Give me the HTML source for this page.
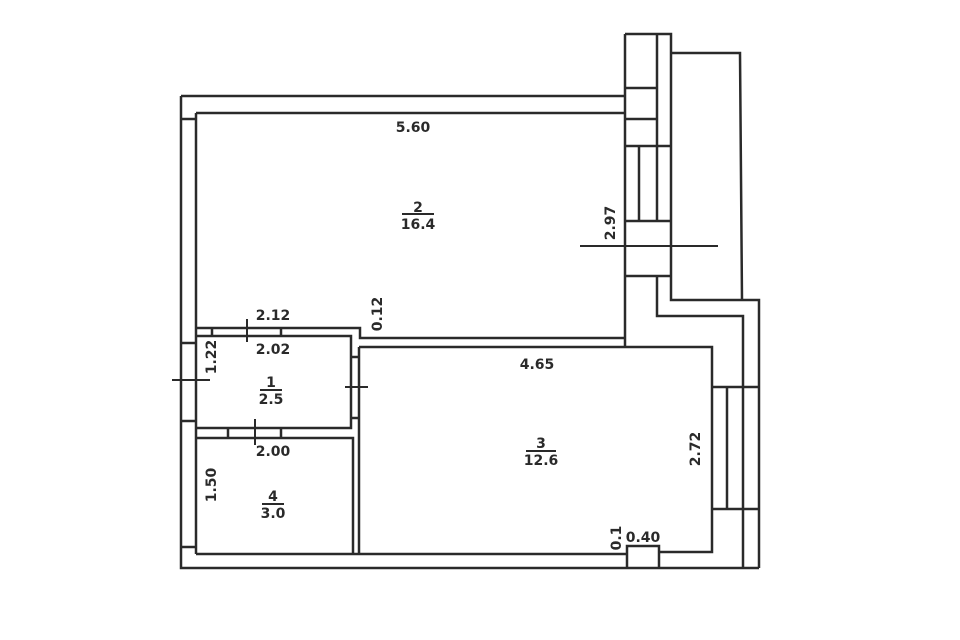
<!DOCTYPE html>
<html><head><meta charset="utf-8"><style>
html,body{margin:0;padding:0;background:#fff;width:960px;height:640px;overflow:hidden}
svg text{font-family:"DejaVu Sans","Liberation Sans",sans-serif;font-weight:bold;font-size:14px;fill:#2a2a2a}
</style></head><body>
<svg width="960" height="640" viewBox="0 0 960 640" xmlns="http://www.w3.org/2000/svg">
<g fill="none" stroke="#2a2a2a" stroke-width="2.5">
<!-- outer left wall -->
<path d="M181,96 H625 M196,113 H625 M181,96 V568 H759 M196,113 V554"/>
<path d="M181,119 H196 M181,343 H196 M181,421 H196 M181,547 H196"/>
<!-- tower -->
<path d="M625,34 H671 V300 H759 V568 M625,34 V347 M657,34 V146"/>
<path d="M625,88 H657 M625,119 H657 M625,146 H671 M639,146 V221 M657,146 V221 M625,221 H671 M625,276 H671"/>
<path d="M671,53 H740 L742,300"/>
<path d="M657,276 V316 H743 V568"/>
<!-- room 2 bottom -->
<path d="M196,328 H360 V338 H625"/>
<path d="M212,328 V336 M281,328 V336"/>
<!-- room 1 -->
<path d="M196,336 H351 V428 H196"/>
<path d="M351,357 H359 M351,418 H359"/>
<!-- room 4 -->
<path d="M196,438 H353 V554"/>
<path d="M228,428 V438 M281,428 V438"/>
<!-- room 3 -->
<path d="M359,347 H712 V552 H659 M359,347 V554 M196,554 H627"/>
<path d="M627,568 V546 H659 V568"/>
<path d="M712,387 H759 M712,509 H759 M727,387 V509"/>
</g>
<g stroke="#2a2a2a" stroke-width="2">
<path d="M580,246 H718 M247,319 V342 M172,380 H210 M345,387 H368 M255,419 V445"/>
<path d="M402,214 H434 M260,390 H282 M262,504 H284 M526,451 H556"/>
</g>
<text x="413" y="132" text-anchor="middle">5.60</text>
<text x="418" y="212" text-anchor="middle">2</text>
<text x="418" y="229" text-anchor="middle">16.4</text>
<text x="273" y="320" text-anchor="middle">2.12</text>
<text x="273" y="354" text-anchor="middle">2.02</text>
<text x="271" y="387" text-anchor="middle">1</text>
<text x="271" y="404" text-anchor="middle">2.5</text>
<text x="273" y="456" text-anchor="middle">2.00</text>
<text x="273" y="501" text-anchor="middle">4</text>
<text x="273" y="518" text-anchor="middle">3.0</text>
<text x="537" y="369" text-anchor="middle">4.65</text>
<text x="541" y="448" text-anchor="middle">3</text>
<text x="541" y="465" text-anchor="middle">12.6</text>
<text x="643" y="542" text-anchor="middle">0.40</text>
<text transform="translate(382,314) rotate(-90)" text-anchor="middle">0.12</text>
<text transform="translate(216,357) rotate(-90)" text-anchor="middle">1.22</text>
<text transform="translate(216,485) rotate(-90)" text-anchor="middle">1.50</text>
<text transform="translate(615,223) rotate(-90)" text-anchor="middle">2.97</text>
<text transform="translate(700,449) rotate(-90)" text-anchor="middle">2.72</text>
<text transform="translate(621,538) rotate(-90)" text-anchor="middle">0.1</text>
</svg>
</body></html>
